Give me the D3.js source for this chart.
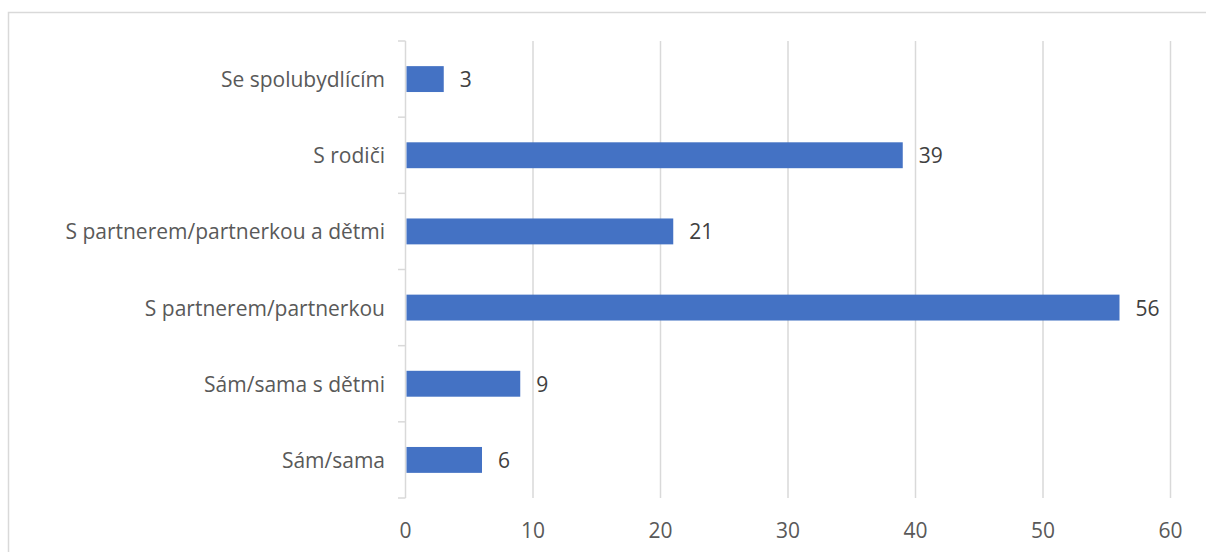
<!DOCTYPE html>
<html>
<head>
<meta charset="utf-8">
<script src="https://cdn.jsdelivr.net/npm/d3@7"></script>
<style>
  html, body { margin: 0; padding: 0; background: #fff; }
  svg { display: block; }
  text { font-family: "Open Sans", "Noto Sans", sans-serif; }
</style>
</head>
<body>
<svg id="chart" width="1206" height="552"></svg>
<script>
// Household situation: number of respondents per answer (top to bottom)
const categories = [
  "Se spolubydlícím",
  "S rodiči",
  "S partnerem/partnerkou a dětmi",
  "S partnerem/partnerkou",
  "Sám/sama s dětmi",
  "Sám/sama"
];
const counts = [3, 39, 21, 56, 9, 6];
const xTicks = [0, 10, 20, 30, 40, 50, 60];

const data = categories.map((c, i) => ({ category: c, value: counts[i] }));

const svg = d3.select("#chart");
const W = 1206, H = 552;
const plot = { left: 405.5, right: 1170.5, top: 41, bottom: 498 };
const fontSize = 21;

const gridColor = "#d9d9d9";
const barColor = "#4472c4";

// Outer chart frame
svg.append("rect")
  .attr("x", 8.5).attr("y", 12.5)
  .attr("width", W + 10).attr("height", H + 10)
  .attr("fill", "none")
  .attr("stroke", gridColor)
  .attr("stroke-width", 1.5);

const x = d3.scaleLinear().domain([0, 60]).range([plot.left, plot.right]);
const y = d3.scaleBand()
  .domain(categories)
  .range([plot.top, plot.bottom])
  .paddingInner(0.66)
  .paddingOuter(0.33);

// Vertical gridlines
svg.append("g")
  .selectAll("line")
  .data(xTicks.slice(1))
  .join("line")
  .attr("x1", d => x(d)).attr("x2", d => x(d))
  .attr("y1", plot.top).attr("y2", plot.bottom)
  .attr("stroke", gridColor)
  .attr("stroke-width", 1.5);

// X tick labels
svg.append("g")
  .selectAll("text")
  .data(xTicks)
  .join("text")
  .attr("x", d => x(d))
  .attr("y", 530)
  .attr("text-anchor", "middle")
  .attr("dominant-baseline", "central")
  .attr("font-size", fontSize)
  .attr("fill", "#595959")
  .text(d => d);

// Category axis: line plus ticks at band boundaries
const step = y.step();
const boundaries = d3.range(categories.length + 1).map(i => plot.top + i * step);
const yAxis = svg.append("g");
yAxis.append("line")
  .attr("x1", plot.left).attr("x2", plot.left)
  .attr("y1", plot.top).attr("y2", plot.bottom)
  .attr("stroke", gridColor).attr("stroke-width", 1.5);
yAxis.selectAll("line.tick")
  .data(boundaries)
  .join("line")
  .attr("class", "tick")
  .attr("x1", plot.left - 7.5).attr("x2", plot.left)
  .attr("y1", d => d).attr("y2", d => d)
  .attr("stroke", gridColor).attr("stroke-width", 1.5);

// Category labels
svg.append("g")
  .selectAll("text")
  .data(categories)
  .join("text")
  .attr("x", 385)
  .attr("y", d => y(d) + y.bandwidth() / 2)
  .attr("text-anchor", "end")
  .attr("dominant-baseline", "central")
  .attr("font-size", fontSize)
  .attr("fill", "#595959")
  .text(d => d);

// Bars
svg.append("g")
  .selectAll("rect")
  .data(data)
  .join("rect")
  .attr("x", x(0) + 1)
  .attr("y", d => y(d.category))
  .attr("width", d => x(d.value) - x(0) - 1)
  .attr("height", y.bandwidth())
  .attr("fill", barColor);

// Value labels
svg.append("g")
  .selectAll("text")
  .data(data)
  .join("text")
  .attr("x", d => x(d.value) + 16)
  .attr("y", d => y(d.category) + y.bandwidth() / 2)
  .attr("dominant-baseline", "central")
  .attr("font-size", fontSize)
  .attr("fill", "#404040")
  .text(d => d.value);
</script>
</body>
</html>
